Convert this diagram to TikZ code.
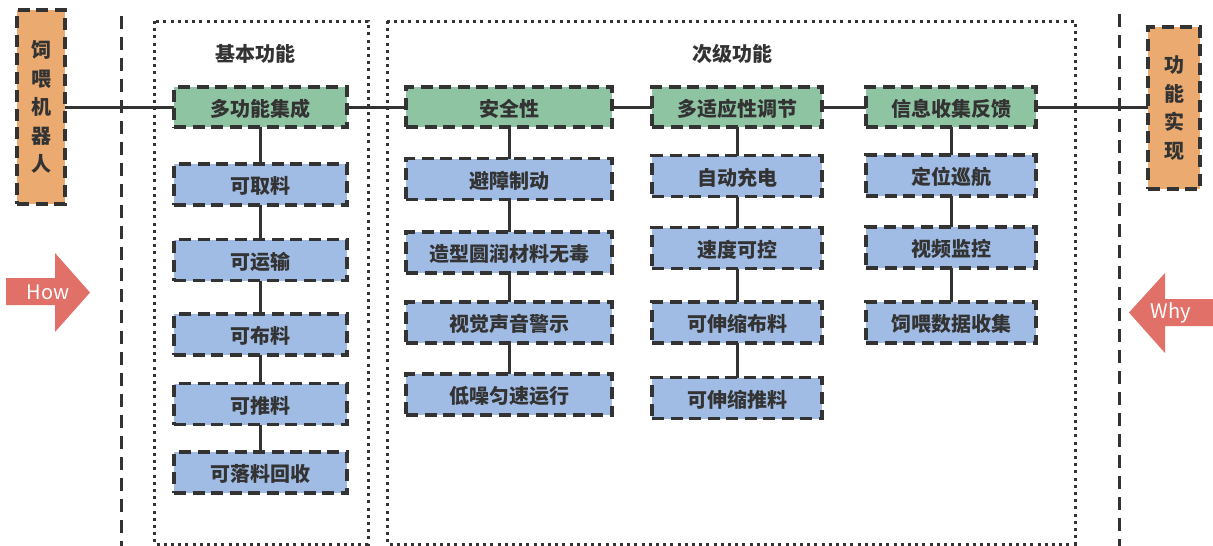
\documentclass[tikz,border=0pt]{standalone}
\usepackage{fontspec}
\setmainfont{Noto Sans CJK SC}
\newfontfamily\latinf{Noto Sans CJK SC}
\definecolor{dk}{HTML}{333333}
\definecolor{gr}{HTML}{8FC4A3}
\definecolor{bl}{HTML}{A0BCE4}
\definecolor{og}{HTML}{EAAA70}
\definecolor{rd}{HTML}{E07068}
\tikzset{
  box/.style={draw=dk, line width=3.3pt, dash pattern=on 12pt off 6.5pt, inner sep=0pt, outer sep=0pt,
    font=\fontsize{20}{24}\selectfont\bfseries, text=dk},
  gbox/.style={box, fill=gr, minimum height=40pt, text height=20pt, text depth=1.5pt},
  bbox/.style={box, fill=bl, minimum height=41pt, text height=20pt, text depth=1.5pt},
  obox/.style={box, fill=og, align=center, font=\fontsize{20}{28.5}\selectfont\bfseries},
  conn/.style={draw=dk, line width=3pt},
  sep/.style={draw=dk, line width=3pt, dash pattern=on 13pt off 8pt},
  dotbox/.style={draw=dk, line width=3pt, dash pattern=on 3pt off 4.2pt},
  ttl/.style={font=\fontsize{20}{24}\selectfont\bfseries, text=dk},
  arrtxt/.style={font=\fontsize{20}{24}\selectfont\latinf, text=white}
}
\begin{document}
\begin{tikzpicture}[x=1pt,y=-1pt]
\useasboundingbox (0,0) rectangle (1213,546);
% separators and group boxes
\draw[sep] (121,16) -- (121,546);
\draw[sep] (1119,14) -- (1119,546);
\draw[dotbox] (154,21) rectangle (368,544);
\draw[dotbox] (387,21) rectangle (1075,544);
\node[ttl] (t1) at (255,54) {基本功能};
\node[ttl] (t2) at (732,54) {次级功能};
% side boxes
\node[obox, minimum width=48pt, minimum height=194pt] (robot) at (41,107) {饲\\喂\\机\\器\\人};
\node[obox, minimum width=52pt, minimum height=162pt] (impl) at (1174,108) {功\\能\\实\\现};
% column 1
\node[gbox, minimum width=173pt] (a0) at (260.5,107) {多功能集成};
\node[bbox, minimum width=173pt] (a1) at (260.5,184.5) {可取料};
\node[bbox, minimum width=173pt] (a2) at (260.5,260) {可运输};
\node[bbox, minimum width=173pt] (a3) at (260.5,334.5) {可布料};
\node[bbox, minimum width=173pt] (a4) at (260.5,404) {可推料};
\node[bbox, minimum width=173pt] (a5) at (260.5,472.5) {可落料回收};
% column 2
\node[gbox, minimum width=206pt] (b0) at (509,107) {安全性};
\node[bbox, minimum width=206pt] (b1) at (509,179) {避障制动};
\node[bbox, minimum width=206pt] (b2) at (509,252.5) {造型圆润材料无毒};
\node[bbox, minimum width=206pt] (b3) at (509,322.5) {视觉声音警示};
\node[bbox, minimum width=206pt] (b4) at (509,394.5) {低噪匀速运行};
% column 3
\node[gbox, minimum width=170pt] (c0) at (737,107) {多适应性调节};
\node[bbox, minimum width=170pt] (c1) at (737,176) {自动充电};
\node[bbox, minimum width=170pt] (c2) at (737,248) {速度可控};
\node[bbox, minimum width=170pt] (c3) at (737,322.5) {可伸缩布料};
\node[bbox, minimum width=170pt] (c4) at (737,398) {可伸缩推料};
% column 4
\node[gbox, minimum width=170pt] (d0) at (951,107) {信息收集反馈};
\node[bbox, minimum width=170pt] (d1) at (951,175.5) {定位巡航};
\node[bbox, minimum width=170pt] (d2) at (951,247.5) {视频监控};
\node[bbox, minimum width=170pt] (d3) at (951,322.5) {饲喂数据收集};
% horizontal connectors
\draw[conn] (robot.east |- a0.west) -- (a0.west);
\draw[conn] (a0.east) -- (b0.west);
\draw[conn] (b0.east) -- (c0.west);
\draw[conn] (c0.east) -- (d0.west);
\draw[conn] (d0.east) -- (impl.west |- d0.east);
% vertical connectors
\foreach \p/\q in {a0/a1,a1/a2,a2/a3,a3/a4,a4/a5,b0/b1,b1/b2,b2/b3,b3/b4,c0/c1,c1/c2,c2/c3,c3/c4,d0/d1,d1/d2,d2/d3}
  \draw[conn] (\p.south) -- (\q.north);
% How / Why arrows
\fill[rd] (6,278) -- (55,278) -- (55,253) -- (90,292.5) -- (55,332) -- (55,305) -- (6,305) -- cycle;
\node[arrtxt] (how) at (48,292) {How};
\fill[rd] (1213,299) -- (1165,299) -- (1165,273) -- (1129,312.5) -- (1165,353) -- (1165,326) -- (1213,326) -- cycle;
\node[arrtxt] (why) at (1171,313) {Why};
\end{tikzpicture}
\end{document}
